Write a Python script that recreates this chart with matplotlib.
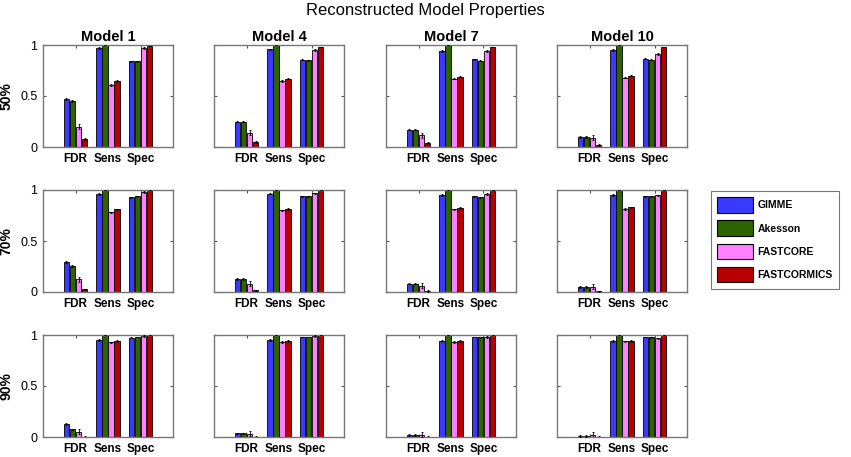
import numpy as np
import matplotlib
matplotlib.use("Agg")
import matplotlib.pyplot as plt
from matplotlib.patches import Patch

plt.rcParams["font.family"] = "Liberation Sans"

models = ["Model 1", "Model 4", "Model 7", "Model 10"]
levels = ["50%", "70%", "90%"]
metrics = ["FDR", "Sens", "Spec"]
methods = ["GIMME", "Akesson", "FASTCORE", "FASTCORMICS"]
colors = ["#3a3aff", "#2e6400", "#ff80ff", "#b80000"]

# values[level][model] = [FDR, Sens, Spec]
gimme = [
    [[0.47, 0.97, 0.84], [0.25, 0.957, 0.856], [0.17, 0.944, 0.86], [0.095, 0.954, 0.866]],
    [[0.295, 0.96, 0.93], [0.128, 0.964, 0.94], [0.082, 0.95, 0.938], [0.046, 0.95, 0.94]],
    [[0.128, 0.948, 0.974], [0.036, 0.95, 0.98], [0.02, 0.94, 0.98], [0.01, 0.944, 0.98]],
]
akesson = [
    [[0.45, 1.0, 0.84], [0.25, 1.0, 0.85], [0.17, 1.0, 0.846], [0.095, 1.0, 0.856]],
    [[0.256, 1.0, 0.94], [0.125, 1.0, 0.94], [0.082, 1.0, 0.93], [0.046, 1.0, 0.94]],
    [[0.075, 1.0, 0.98], [0.036, 1.0, 0.98], [0.02, 1.0, 0.977], [0.01, 1.0, 0.977]],
]
fastcore = [
    [[0.20, 0.61, 0.97], [0.14, 0.646, 0.95], [0.115, 0.67, 0.94], [0.09, 0.68, 0.91]],
    [[0.125, 0.78, 0.98], [0.082, 0.80, 0.967], [0.062, 0.81, 0.96], [0.052, 0.816, 0.947]],
    [[0.05, 0.928, 0.99], [0.033, 0.93, 0.99], [0.023, 0.934, 0.983], [0.02, 0.938, 0.967]],
]
fastcormics = [
    [[0.08, 0.65, 0.99], [0.05, 0.67, 0.98], [0.04, 0.69, 0.98], [0.02, 0.70, 0.98]],
    [[0.026, 0.81, 1.0], [0.016, 0.816, 1.0], [0.01, 0.823, 1.0], [0.005, 0.83, 1.0]],
    [[0.003, 0.94, 1.0], [0.003, 0.94, 1.0], [0.003, 0.94, 1.0], [0.002, 0.94, 1.0]],
]
# error bar half-widths per method (FDR, Sens, Spec)
errs = [
    [0.008, 0.008, 0.004],
    [0.008, 0.0, 0.004],
    [0.025, 0.008, 0.008],
    [0.008, 0.008, 0.004],
]

data = [np.array(gimme), np.array(akesson), np.array(fastcore), np.array(fastcormics)]

W, H = 851, 457
fig = plt.figure(figsize=(W / 100, H / 100), dpi=100)

lefts = [43, 214, 386, 557]
bottoms = [147, 292, 437]
aw, ah = 130, 102

x = np.arange(1, 4)
bw = 0.18
offs = (np.arange(4) - 1.5) * 0.185

for r in range(3):
    for c in range(4):
        ax = fig.add_axes([lefts[c] / W, 1 - bottoms[r] / H, aw / W, ah / H])
        for k in range(4):
            vals = data[k][r, c]
            ax.bar(x + offs[k], vals, bw, color=colors[k], edgecolor="black", linewidth=0.6, zorder=2)
            ax.errorbar(x + offs[k], vals, yerr=errs[k], fmt="none", ecolor="black",
                        elinewidth=0.6, capsize=1.0, capthick=0.6, zorder=3)
        ax.set_xlim(0, 4)
        ax.set_ylim(0, 1)
        ax.set_xticks(x)
        ax.set_xticklabels(metrics, fontsize=8.5, fontweight="bold")
        ax.set_yticks([0, 0.5, 1])
        ax.tick_params(direction="in", length=2, top=True, right=True, color="#555555", pad=4)
        if c == 0:
            ax.set_yticklabels(["0", "0.5", "1"], fontsize=9)
            ax.set_ylabel(levels[r], fontsize=10, fontweight="bold", labelpad=5)
        else:
            ax.set_yticklabels([])
        for s in ax.spines.values():
            s.set_color("#777777")
            s.set_linewidth(1.0)
        if r == 0:
            ax.set_title(models[c], fontsize=10.5, fontweight="bold", pad=3)

handles = [Patch(facecolor=colors[k], edgecolor="black", linewidth=0.8, label=methods[k]) for k in range(4)]
leg = fig.legend(handles=handles, loc="upper left", bbox_to_anchor=(711 / W, 1 - 191 / H),
                 prop={"weight": "bold", "size": 7.5}, frameon=True, fancybox=False,
                 edgecolor="#555555", handlelength=3.4, handleheight=1.9, labelspacing=0.75,
                 borderpad=0.6, handletextpad=0.45, borderaxespad=0)
leg.get_frame().set_linewidth(0.8)

fig.suptitle("Reconstructed Model Properties", y=1 - 3 / H, va="top", fontsize=12)

fig.savefig("out.png", dpi=100, facecolor="white")
